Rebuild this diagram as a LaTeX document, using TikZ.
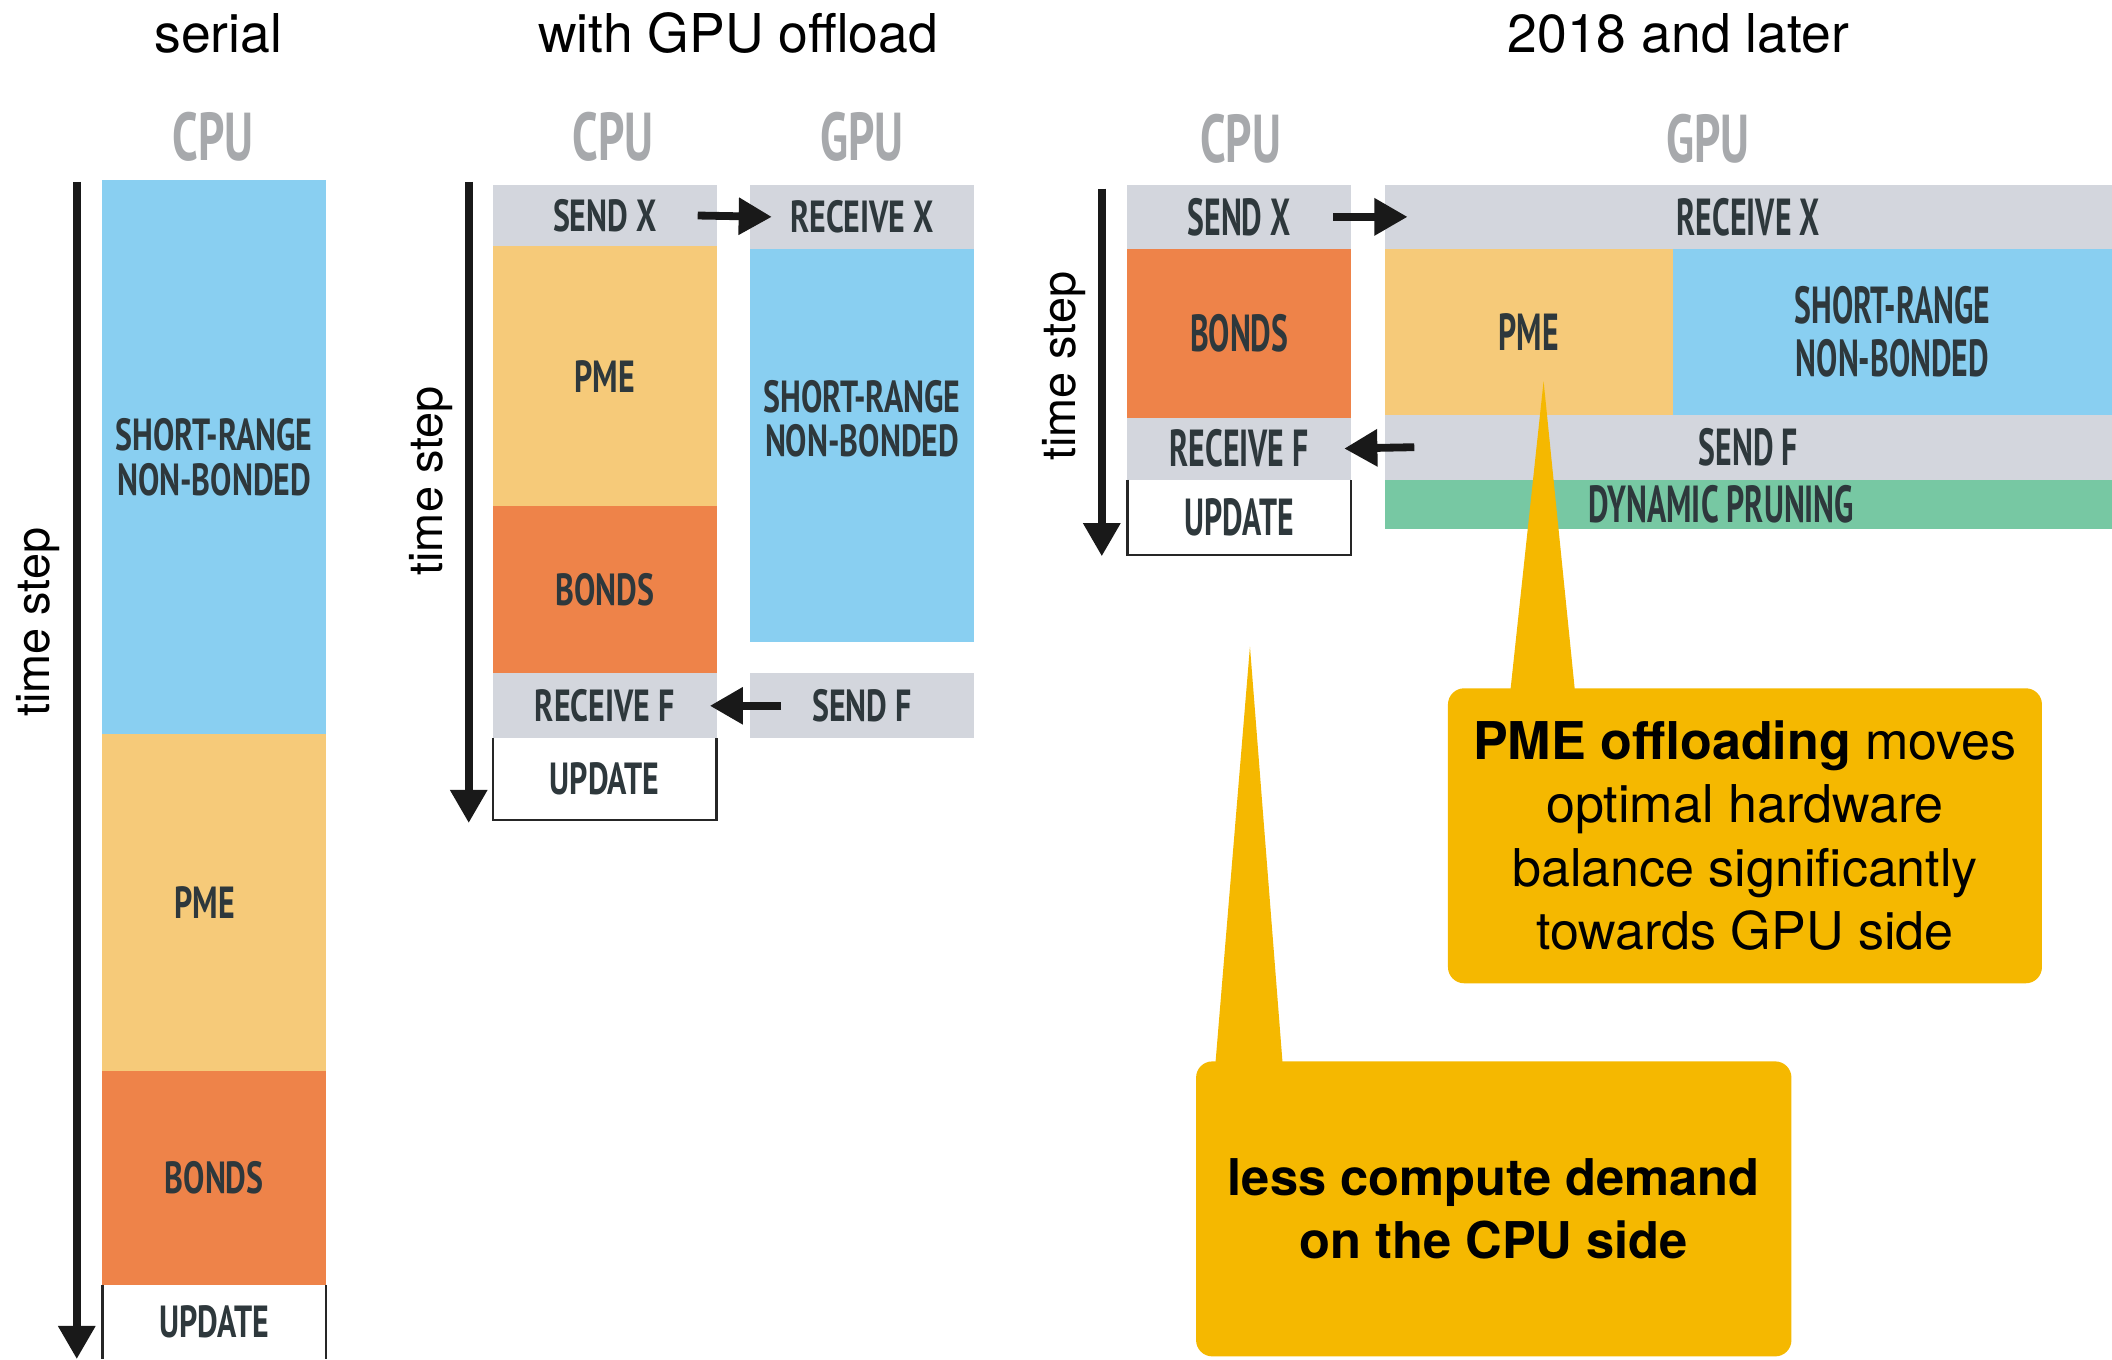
\documentclass[tikz,border=0pt]{standalone}
\usepackage{fontspec}
\setmainfont{TeX Gyre Heros}
\newfontfamily\hdrfont[FakeStretch=0.68]{PT Sans}
\newfontfamily\blockfont[FakeStretch=0.71]{PT Sans}
\newfontfamily\tallfont[FakeStretch=0.61]{PT Sans}
\usetikzlibrary{arrows.meta}
\definecolor{SkyBlue}{HTML}{89CFF1}
\definecolor{PmeYellow}{HTML}{F6CA79}
\definecolor{BondOrange}{HTML}{EE8349}
\definecolor{CommGray}{HTML}{D3D6DD}
\definecolor{PruneGreen}{HTML}{77C8A3}
\definecolor{CalloutGold}{HTML}{F5B800}
\definecolor{Ink}{HTML}{2E383C}
\definecolor{HdrGray}{HTML}{A7A9AC}

\begin{document}
\begin{tikzpicture}[x=0.1mm, y=-0.1mm, >={Triangle[width=7.5pt,length=7pt]},
    blk/.style={anchor=north west, inner sep=0pt, outer sep=0pt, align=center, text=Ink,
        font=\blockfont\bfseries\fontsize{9.5}{9.4}\selectfont},
    tallblk/.style={blk, font=\tallfont\bfseries\fontsize{11}{11.1}\selectfont},
    hdr/.style={anchor=base, text=HdrGray, font=\hdrfont\bfseries\fontsize{14.3}{14}\selectfont},
    title/.style={anchor=base, font=\fontsize{11.3}{13}\selectfont},
    tstep/.style={rotate=90, font=\fontsize{9.9}{11}\selectfont},
    timeline/.style={->, line width=1.65pt, black!90},
    xfer/.style={->, line width=1.65pt, black!90},
    updline/.style={line width=0.5pt, black!85},
    callout/.style={fill=CalloutGold, rounded corners=1.2mm, align=center, inner sep=0pt}]

    \useasboundingbox (0,0) rectangle (1568,1009);

    % ========== titles ==========
    \node[title] (ttl1) at (162,39) {serial};
    \node[title] (ttl2) at (548,39) {with GPU offload};
    \node[title] (ttl3) at (1246,39) {2018 and later};

    % ========== serial ==========
    \node[hdr] (cpu1) at (158,119) {CPU};
    \coordinate (t1a) at (57,135);
    \coordinate (t1b) at (57,1009);
    \draw[timeline] (t1a) -- (t1b);
    \node[tstep] (ts1) at (28,462) {time step};

    \node[blk, fill=SkyBlue, minimum width=16.6mm, minimum height=41.1mm] (sr1) at (76,134) {SHORT-RANGE\\NON-BONDED};
    \node[blk, fill=PmeYellow, minimum width=16.6mm, minimum height=25mm,
        label={[blk, anchor=center, xshift=-0.7mm]center:PME}] (pme1) at (76,545) {};
    \node[blk, fill=BondOrange, minimum width=16.6mm, minimum height=15.9mm] (bnd1) at (76,795) {BONDS};
    \node[blk, fill=white, minimum width=16.6mm, minimum height=5.5mm] (upd1) at (76,954) {UPDATE};
    \draw[updline] (upd1.north west) -- (upd1.south west);
    \draw[updline] (upd1.north east) -- (upd1.south east);

    % ========== with GPU offload ==========
    \node[hdr] (cpu2) at (455,119) {CPU};
    \node[hdr] (gpu2) at (640,119) {GPU};
    \coordinate (t2a) at (348,135);
    \coordinate (t2b) at (348,611);
    \draw[timeline] (t2a) -- (t2b);
    \node[tstep] (ts2) at (320,357) {time step};

    % CPU side
    \node[blk, fill=CommGray, minimum width=16.6mm, minimum height=4.6mm] (sx2) at (366,137) {SEND X};
    \node[blk, fill=PmeYellow, minimum width=16.6mm, minimum height=19.3mm] (pme2) at (366,183) {PME};
    \node[blk, fill=BondOrange, minimum width=16.6mm, minimum height=12.4mm] (bnd2) at (366,376) {BONDS};
    \node[blk, fill=CommGray, minimum width=16.6mm, minimum height=4.8mm] (rf2) at (366,500) {RECEIVE F};
    \node[blk, fill=white, minimum width=16.6mm, minimum height=6.1mm] (upd2) at (366,548) {UPDATE};
    \draw[updline] (upd2.north west) -- (upd2.south west) -- (upd2.south east) -- (upd2.north east);

    % GPU side
    \node[blk, fill=CommGray, minimum width=16.6mm, minimum height=4.8mm] (rx2) at (557,137) {RECEIVE X};
    \node[blk, fill=SkyBlue, minimum width=16.6mm, minimum height=29.2mm,
        label={[blk, anchor=center, yshift=2mm]center:{SHORT-RANGE\\NON-BONDED}}] (sr2) at (557,185) {};
    \node[blk, fill=CommGray, minimum width=16.6mm, minimum height=4.8mm] (sf2) at (557,500) {SEND F};

    \draw[xfer] ([xshift=-1.4mm]sx2.east) -- ([xshift=1.6mm]rx2.west);
    \draw[xfer] ([xshift=2.3mm]sf2.west) -- ([xshift=-0.5mm]rf2.east);

    % ========== 2018 and later ==========
    \node[hdr] (cpu3) at (921,121) {CPU};
    \node[hdr] (gpu3) at (1268,121) {GPU};
    \coordinate (t3a) at (818,140);
    \coordinate (t3b) at (818,413);
    \draw[timeline] (t3a) -- (t3b);
    \node[tstep] (ts3) at (790,272) {time step};

    % CPU side
    \node[tallblk, fill=CommGray, minimum width=16.6mm, minimum height=4.8mm] (sx3) at (837,137) {SEND X};
    \node[tallblk, fill=BondOrange, minimum width=16.6mm, minimum height=12.5mm] (bnd3) at (837,185) {BONDS};
    \node[tallblk, fill=CommGray, minimum width=16.6mm, minimum height=4.6mm] (rf3) at (837,310) {RECEIVE F};
    \node[tallblk, fill=white, minimum width=16.6mm, minimum height=5.6mm] (upd3) at (837,356) {UPDATE};
    \draw[updline] (upd3.north west) -- (upd3.south west) -- (upd3.south east) -- (upd3.north east);

    % GPU side
    \node[tallblk, fill=CommGray, minimum width=54mm, minimum height=4.8mm] (rx3) at (1028,137) {RECEIVE X};
    \node[tallblk, fill=PmeYellow, minimum width=21.4mm, minimum height=12.3mm] (pme3) at (1028,185) {PME};
    \node[tallblk, fill=SkyBlue, minimum width=32.6mm, minimum height=12.3mm] (sr3) at (1242,185) {SHORT-RANGE\\NON-BONDED};
    \node[tallblk, fill=CommGray, minimum width=54mm, minimum height=4.8mm] (sf3) at (1028,308) {SEND F};
    \node[tallblk, fill=PruneGreen, minimum width=54mm, minimum height=3.7mm,
        label={[tallblk, anchor=center, xshift=-2mm]center:DYNAMIC PRUNING}] (dp3) at (1028,356) {};

    \draw[xfer] ([xshift=-1.3mm]sx3.east) -- ([xshift=1.7mm]rx3.west);
    \draw[xfer] ([xshift=2.2mm]sf3.west) -- ([xshift=-0.5mm]rf3.east);

    % ========== callouts ==========
    \node[callout, minimum width=44.1mm, minimum height=21.9mm, font=\fontsize{11}{13.4}\selectfont] (c1) at (1295.5,620.5)
        {\textbf{PME offloading} moves\\optimal hardware\\balance significantly\\towards GPU side};
    \coordinate (tip1) at (1146,283);
    \fill[CalloutGold] ([shift={(4.7mm,-0.3mm)}]c1.north west) -- (tip1) -- ([shift={(9.5mm,-0.3mm)}]c1.north west) -- cycle;

    \node[callout, minimum width=44.2mm, minimum height=21.9mm, font=\bfseries\fontsize{10.7}{13.4}\selectfont] (c2) at (1109,897.5)
        {less compute demand\\on the CPU side};
    \coordinate (tip2) at (928,480);
    \fill[CalloutGold] ([shift={(1.5mm,-0.3mm)}]c2.north west) -- (tip2) -- ([shift={(6.5mm,-0.3mm)}]c2.north west) -- cycle;

\end{tikzpicture}
\end{document}
